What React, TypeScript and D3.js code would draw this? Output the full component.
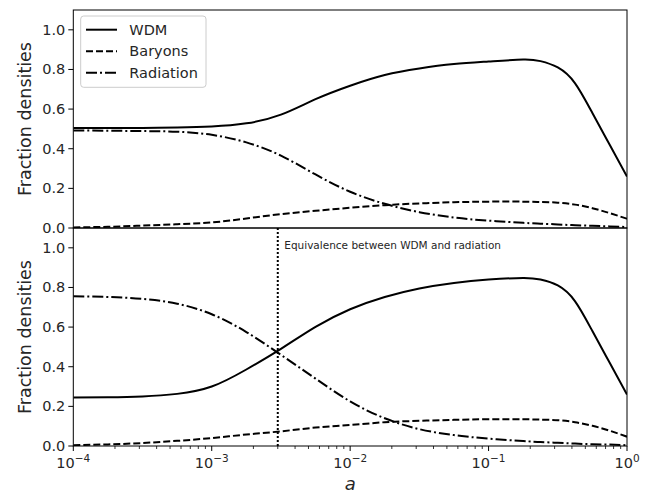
import React from "react";
import * as d3 from "d3";

// scale factor a (log-spaced sample points)
const aValues = [1e-4, 1.778e-4, 3.162e-4, 5.623e-4, 1e-3, 1.778e-3, 3.162e-3, 5.623e-3, 1e-2, 1.778e-2, 3.162e-2, 5.623e-2, 0.1, 0.1778, 0.2371, 0.3162, 0.4217, 0.5623, 0.7499, 1];

// top panel
const topWDM = [0.505, 0.505, 0.505, 0.507, 0.512, 0.528, 0.572, 0.65, 0.718, 0.772, 0.805, 0.827, 0.84, 0.85, 0.842, 0.81, 0.73, 0.58, 0.42, 0.26];
const topBaryons = [0.003, 0.006, 0.012, 0.019, 0.028, 0.048, 0.07, 0.087, 0.102, 0.115, 0.124, 0.13, 0.133, 0.133, 0.131, 0.128, 0.118, 0.1, 0.075, 0.047];
const topRadiation = [0.492, 0.491, 0.489, 0.486, 0.47, 0.432, 0.365, 0.27, 0.183, 0.122, 0.08, 0.053, 0.037, 0.026, 0.022, 0.018, 0.014, 0.011, 0.008, 0.005];

// bottom panel
const botWDM = [0.245, 0.246, 0.25, 0.263, 0.30, 0.386, 0.49, 0.601, 0.69, 0.752, 0.795, 0.823, 0.84, 0.848, 0.84, 0.81, 0.73, 0.58, 0.42, 0.26];
const botBaryons = [0.004, 0.008, 0.015, 0.026, 0.04, 0.058, 0.074, 0.093, 0.106, 0.12, 0.127, 0.132, 0.135, 0.135, 0.133, 0.13, 0.12, 0.102, 0.077, 0.047];
const botRadiation = [0.755, 0.752, 0.742, 0.718, 0.665, 0.575, 0.46, 0.34, 0.225, 0.14, 0.085, 0.055, 0.037, 0.025, 0.02, 0.016, 0.012, 0.009, 0.007, 0.004];

const yTicks = [0, 0.2, 0.4, 0.6, 0.8, 1.0];
const xMajor = [1e-4, 1e-3, 1e-2, 1e-1, 1];
const xMajorExp = ["−4", "−3", "−2", "−1", "0"];
const legendLabels = ["WDM", "Baryons", "Radiation"];
const equivalenceA = 3e-3;
const annotation = "Equivalence between WDM and radiation";

const FONT = "DejaVu Sans, sans-serif";
const dashes = ["none", "7,3", "11,3,2,3"];

export default function App() {
  const L = 73.3, R = 627;
  const x = d3.scaleLog().domain([1e-4, 1]).range([L, R]);
  const yTop = d3.scaleLinear().domain([0, 1.1]).range([228, 10]);
  const yBot = d3.scaleLinear().domain([0, 1.1]).range([446, 228]);

  const minor: number[] = [];
  for (let e = -4; e < 0; e++) for (let k = 2; k <= 9; k++) minor.push(k * Math.pow(10, e));

  const mkLine = (y: d3.ScaleLinear<number, number>) =>
    d3.line<number>().x((_, i) => x(aValues[i])).y((v) => y(v)).curve(d3.curveNatural);

  const panel = (y: d3.ScaleLinear<number, number>, series: number[][], key: string, showX: boolean) => {
    const line = mkLine(y);
    const [y0, y1] = y.range();
    return (
      <g key={key}>
        <defs>
          <clipPath id={"clip" + key}>
            <rect x={L} y={y1} width={R - L} height={y0 - y1} />
          </clipPath>
        </defs>
        <g clipPath={`url(#clip${key})`}>
          {series.map((s, i) => (
            <path key={i} d={line(s) || ""} fill="none" stroke="#000" strokeWidth={2}
              strokeDasharray={dashes[i]} />
          ))}
        </g>
        <rect x={L} y={y1} width={R - L} height={y0 - y1} fill="none" stroke="#000" strokeWidth={1} />
        {yTicks.map((t) => (
          <g key={t}>
            <line x1={L - 5} x2={L} y1={y(t)} y2={y(t)} stroke="#000" strokeWidth={1} />
            <text x={L - 8} y={y(t)} textAnchor="end" dominantBaseline="central" fontFamily={FONT}
              fontSize={14.5} fill="#262626">{t.toFixed(1)}</text>
          </g>
        ))}
        <text transform={`translate(25,${(y0 + y1) / 2}) rotate(-90)`} textAnchor="middle"
          dominantBaseline="central" fontFamily={FONT} fontSize={17.5} fill="#262626">Fraction densities</text>
        {showX && (
          <g>
            {minor.map((m) => (
              <line key={m} x1={x(m)} x2={x(m)} y1={y0} y2={y0 + 3} stroke="#000" strokeWidth={0.8} />
            ))}
            {xMajor.map((m, i) => (
              <g key={m}>
                <line x1={x(m)} x2={x(m)} y1={y0} y2={y0 + 5} stroke="#000" strokeWidth={1} />
                <text x={x(m)} y={y0 + 22} textAnchor="middle" fontFamily={FONT} fontSize={14.5} fill="#262626">
                  10<tspan fontSize={10.5} dy={-6}>{xMajorExp[i]}</tspan>
                </text>
              </g>
            ))}
          </g>
        )}
      </g>
    );
  };

  return (
    <svg width={649} height={494} style={{ position: "absolute", left: 0, top: 0, background: "#fff" }}>
      <rect x={0} y={0} width={649} height={494} fill="#fff" />
      {panel(yTop, [topWDM, topBaryons, topRadiation], "top", false)}
      {panel(yBot, [botWDM, botBaryons, botRadiation], "bot", true)}
      {/* equivalence line */}
      <line x1={x(equivalenceA)} x2={x(equivalenceA)} y1={yBot(0)} y2={yBot(1.1)} stroke="#000"
        strokeWidth={2} strokeDasharray="2,2" />
      <text x={x(equivalenceA) + 6.5} y={249} fontFamily={FONT} fontSize={10.5} fill="#262626">{annotation}</text>
      {/* legend */}
      <rect x={80.7} y={16} width={125.3} height={71.3} rx={3} fill="#fff" fillOpacity={0.8} stroke="#ccc" strokeWidth={1} />
      {legendLabels.map((lab, i) => {
        const yy = 29.7 + i * 21.5;
        return (
          <g key={lab}>
            <line x1={86} x2={117} y1={yy} y2={yy} stroke="#000" strokeWidth={2} strokeDasharray={dashes[i]} />
            <text x={129.3} y={yy} dominantBaseline="central" fontFamily={FONT} fontSize={14.5} fill="#262626">{lab}</text>
          </g>
        );
      })}
      <text x={(L + R) / 2} y={490} textAnchor="middle" fontFamily={FONT} fontStyle="italic" fontSize={18} fill="#262626">a</text>
    </svg>
  );
}
